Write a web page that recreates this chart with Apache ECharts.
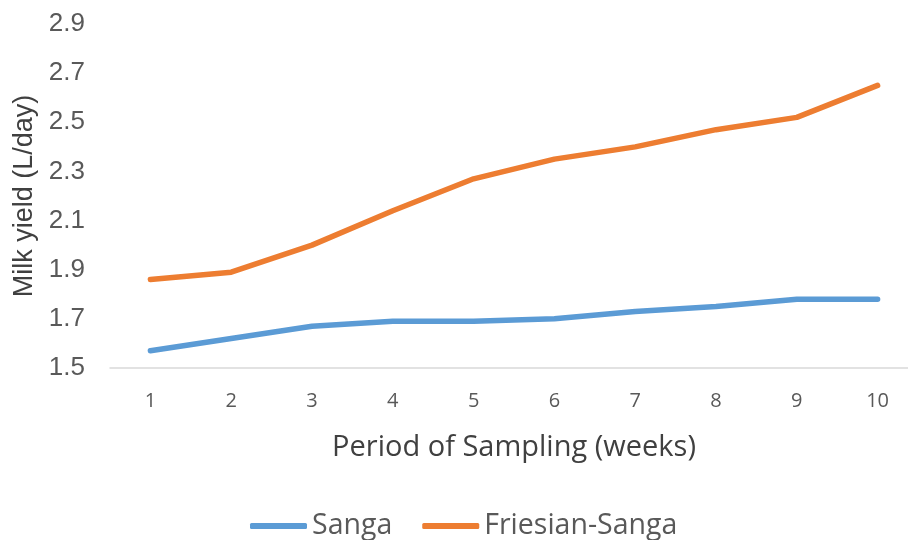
<!DOCTYPE html>
<html><head><meta charset="utf-8">
<script src="https://cdn.jsdelivr.net/npm/echarts@6/dist/echarts.min.js"></script>
<style>html,body{margin:0;padding:0;background:#fff;overflow:hidden;width:908px;height:540px}#c{width:920px;height:540px}</style>
</head><body><div id="c"></div>
<script>
var weeks = ['1','2','3','4','5','6','7','8','9','10'];
var sanga = [1.57, 1.62, 1.67, 1.69, 1.69, 1.70, 1.73, 1.75, 1.78, 1.78];
var friesianSanga = [1.86, 1.89, 2.00, 2.14, 2.27, 2.35, 2.40, 2.47, 2.52, 2.65];
var yTicks = { min: 1.5, max: 2.9, step: 0.2 };

var chart = echarts.init(document.getElementById('c'));
chart.setOption({
  animation: false,
  grid: { left: 110, right: 2, top: 24, height: 344, containLabel: false, outerBoundsMode: 'none' },
  legend: {
    top: 509, left: 250, padding: 0,
    itemWidth: 57, itemHeight: 6, itemGap: 30,
    textStyle: { fontFamily: 'Open Sans, sans-serif', fontSize: 28.5, lineHeight: 34, color: '#595959' },
    data: [
      { name: 'Sanga', icon: 'roundRect' },
      { name: 'Friesian-Sanga', icon: 'roundRect' }
    ]
  },
  xAxis: {
    type: 'category', data: weeks, boundaryGap: true,
    name: 'Period of Sampling (weeks)', nameLocation: 'middle', nameGap: 65,
    nameTextStyle: { fontFamily: 'Open Sans, sans-serif', fontSize: 29, color: '#404040' },
    axisLine: { lineStyle: { color: '#d9d9d9', width: 1.5 } },
    axisTick: { show: false },
    axisLabel: { margin: 23, fontFamily: 'Open Sans, sans-serif', fontSize: 20, color: '#595959' }
  },
  yAxis: {
    type: 'value', min: yTicks.min, max: yTicks.max, interval: yTicks.step,
    name: 'Milk yield (L/day)', nameLocation: 'middle', nameGap: 71, nameRotate: 90,
    nameTextStyle: { fontFamily: 'Liberation Sans, Arial, sans-serif', fontSize: 27, color: '#404040' },
    axisLine: { show: false }, axisTick: { show: false },
    splitLine: { show: false },
    axisLabel: { margin: 25, fontFamily: 'Liberation Sans, Arial, sans-serif', fontSize: 26, color: '#595959',
      formatter: function(v){ return v.toFixed(1); } }
  },
  series: [
    { name: 'Sanga', type: 'line', data: sanga, symbol: 'none', color: '#5B9BD5',
      lineStyle: { width: 5.5, color: '#5B9BD5', cap: 'round', join: 'round' } },
    { name: 'Friesian-Sanga', type: 'line', data: friesianSanga, symbol: 'none', color: '#ED7D31',
      lineStyle: { width: 5.5, color: '#ED7D31', cap: 'round', join: 'round' } }
  ]
});
</script></body></html>
